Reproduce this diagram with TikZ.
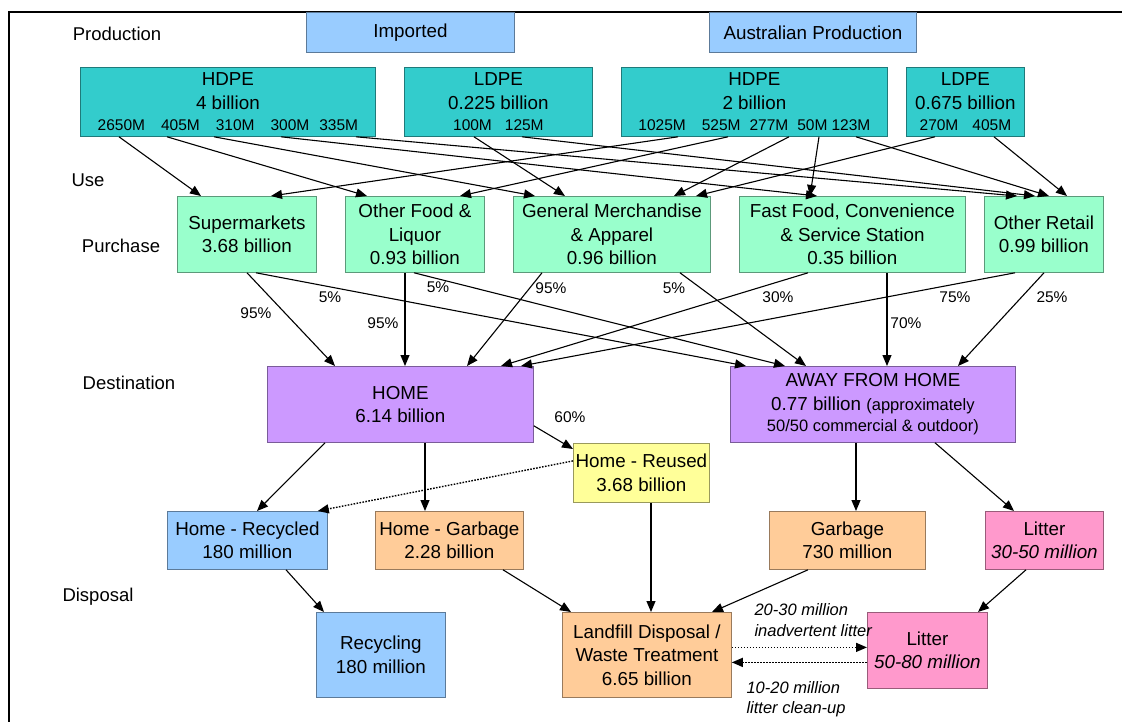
\documentclass[tikz,border=0pt]{standalone}
\usepackage{fontspec}
\setmainfont{Liberation Sans}
\usetikzlibrary{arrows.meta}
\definecolor{tealA}{HTML}{33CCCC}
\definecolor{lblueA}{HTML}{99CCFF}
\definecolor{mintA}{HTML}{99FFCC}
\definecolor{lilacA}{HTML}{CC99FF}
\definecolor{yelA}{HTML}{FFFF99}
\definecolor{peachA}{HTML}{FFCC99}
\definecolor{pinkA}{HTML}{FF99CC}
\newcommand\numf{\fontsize{15.5}{18}\selectfont}
\newcommand\smf{\fontsize{16.5}{18}\selectfont}
\tikzset{
 bx/.style={draw=#1!60!black, fill=#1, line width=0.8pt, anchor=north west, inner sep=0pt, align=center, font=\fontsize{18.8}{23.5}\selectfont},
 arr/.style={-{Triangle[length=11pt,width=9pt]}, line width=1.1pt},
 dotarr/.style={arr, line width=1.4pt, dash pattern=on 1.6pt off 1.4pt},
 pct/.style={font=\fontsize{15.5}{18}\selectfont},
 lbl/.style={font=\fontsize{18.5}{22}\selectfont},
 note/.style={font=\fontsize{16.5}{20}\selectfont\itshape, anchor=west},
}
\begin{document}
\begin{tikzpicture}[x=1pt,y=-1pt]
\useasboundingbox (0,0) rectangle (1122,722);
\fill[white] (0,0) rectangle (1122,722);
\draw[line width=1.3pt] (1122,12) -- (9,12) -- (9,722);

% row labels
\node[lbl] (lprod) at (117,34) {Production};
\node[lbl] (luse) at (88,180) {Use};
\node[lbl] (lpur) at (121,246) {Purchase};
\node[lbl] (ldes) at (129,383) {Destination};
\node[lbl] (ldis) at (98,597) {Disposal};

% top boxes
\node[bx=lblueA, minimum width=208pt, minimum height=40pt] (imp) at (306,12) {Imported};
\node[bx=lblueA, minimum width=207pt, minimum height=40pt] (aus) at (709,12) {Australian Production};

% production
\node[bx=tealA, minimum width=295pt, minimum height=69pt] (hI) at (80,67)
 {HDPE\\4 billion\\[-2pt]{\numf 2650M\hspace{16pt}405M\hspace{16pt}310M\hspace{16pt}300M\hspace{10pt}335M}};
\node[bx=tealA, minimum width=188pt, minimum height=69pt] (lI) at (404,67)
 {LDPE\\0.225 billion\\[-2pt]{\numf 100M\hspace{13pt}125M}};
\node[bx=tealA, minimum width=266pt, minimum height=69pt] (hA) at (621,67)
 {HDPE\\2 billion\\[-2pt]{\numf 1025M\hspace{16pt}525M\hspace{9pt}277M\hspace{9pt}50M\hspace{4pt}123M}};
\node[bx=tealA, minimum width=118pt, minimum height=69pt] (lA) at (906,67)
 {LDPE\\0.675 billion\\[-2pt]{\numf 270M\hspace{14pt}405M}};

% purchase
\node[bx=mintA, minimum width=139pt, minimum height=76pt] (sup) at (177,196) {Supermarkets\\3.68 billion};
\node[bx=mintA, minimum width=139pt, minimum height=76pt] (of) at (345,196) {Other Food \&\\Liquor\\0.93 billion};
\node[bx=mintA, minimum width=197pt, minimum height=76pt] (gm) at (513,196) {General Merchandise\\\& Apparel\\0.96 billion};
\node[bx=mintA, minimum width=226pt, minimum height=76pt] (ff) at (739,196) {Fast Food, Convenience\\\& Service Station\\0.35 billion};
\node[bx=mintA, minimum width=119pt, minimum height=76pt] (or) at (984,196) {Other Retail\\0.99 billion};

% destination
\node[bx=lilacA, minimum width=266pt, minimum height=76pt] (home) at (267,366) {HOME\\6.14 billion};
\node[bx=lilacA, minimum width=285pt, minimum height=76pt] (away) at (730,366)
 {AWAY FROM HOME\\0.77 billion {\smf(approximately}\\[-2pt]{\smf 50/50 commercial \& outdoor)}};
\node[bx=yelA, minimum width=136pt, minimum height=59pt] (reused) at (573,443) {Home - Reused\\3.68 billion};

% disposal
\node[bx=lblueA, minimum width=160pt, minimum height=58pt] (recd) at (167,511) {Home - Recycled\\180 million};
\node[bx=peachA, minimum width=148pt, minimum height=58pt] (hgar) at (375,511) {Home - Garbage\\2.28 billion};
\node[bx=peachA, minimum width=156pt, minimum height=58pt] (gar) at (769,511) {Garbage\\730 million};
\node[bx=pinkA, minimum width=118pt, minimum height=58pt] (lit1) at (985,511) {Litter\\\textit{30-50 million}};
\node[bx=lblueA, minimum width=129pt, minimum height=85pt] (recy) at (316,612) {Recycling\\180 million};
\node[bx=peachA, minimum width=169pt, minimum height=85pt] (land) at (562,612) {Landfill Disposal /\\Waste Treatment\\6.65 billion};
\node[bx=pinkA, minimum width=120pt, minimum height=76pt] (lit2) at (867,612) {Litter\\\textit{50-80 million}};

% production -> purchase
\draw[arr] ([xshift=39pt]hI.south west) -- ([xshift=24pt]sup.north west);
\draw[arr] ([xshift=87pt]hI.south west) -- ([xshift=22pt]of.north west);
\draw[arr] ([xshift=134pt]hI.south west) -- ([xshift=22pt]gm.north west);
\draw[arr] ([xshift=201pt]hI.south west) -- ([xshift=78pt]ff.north west);
\draw[arr] ([xshift=276pt]hI.south west) -- ([xshift=33pt]or.north west);
\draw[arr] ([xshift=70pt]lI.south west) -- ([xshift=52pt]gm.north west);
\draw[arr] ([xshift=118pt]lI.south west) -- ([xshift=51pt]or.north west);
\draw[arr] ([xshift=57pt]hA.south west) -- ([xshift=94pt]sup.north west);
\draw[arr] ([xshift=107pt]hA.south west) -- ([xshift=115pt]of.north west);
\draw[arr] ([xshift=168pt]hA.south west) -- ([xshift=161pt]gm.north west);
\draw[arr] ([xshift=198pt]hA.south west) -- ([xshift=71pt]ff.north west);
\draw[arr] ([xshift=235pt]hA.south west) -- ([xshift=65pt]or.north west);
\draw[arr] ([xshift=29pt]lA.south west) -- ([xshift=183pt]gm.north west);
\draw[arr] ([xshift=88pt]lA.south west) -- ([xshift=83pt]or.north west);

% purchase -> destination
\draw[arr] ([xshift=70pt]sup.south west) -- ([xshift=68pt]home.north west);
\draw[arr] ([xshift=79pt]sup.south west) -- ([xshift=16pt]away.north west);
\draw[arr] ([xshift=60pt]of.south west) -- ([xshift=138pt]home.north west);
\draw[arr] ([xshift=69pt]of.south west) -- ([xshift=55pt]away.north west);
\draw[arr] ([xshift=29pt]gm.south west) -- ([xshift=200pt]home.north west);
\draw[arr] ([xshift=167pt]gm.south west) -- ([xshift=76pt]away.north west);
\draw[arr] ([xshift=69pt]ff.south west) -- ([xshift=234pt]home.north west);
\draw[arr] ([xshift=148pt]ff.south west) -- ([xshift=157pt]away.north west);
\draw[arr] ([xshift=31pt]or.south west) -- ([xshift=254pt]home.north west);
\draw[arr] ([xshift=60pt]or.south west) -- ([xshift=228pt]away.north west);

% percentages
\node[pct] (p1) at (256,313) {95\%};
\node[pct] (p2) at (330,297) {5\%};
\node[pct] (p3) at (383,323) {95\%};
\node[pct] (p4) at (438,287) {5\%};
\node[pct] (p5) at (551,288) {95\%};
\node[pct] (p6) at (674,288) {5\%};
\node[pct] (p7) at (778,297) {30\%};
\node[pct] (p8) at (906,323) {70\%};
\node[pct] (p9) at (955,297) {75\%};
\node[pct] (p10) at (1052,297) {25\%};
\node[pct] (p11) at (570,417) {60\%};

% destination -> disposal
\draw[arr] ([xshift=58pt]home.south west) -- ([xshift=90pt]recd.north west);
\draw[arr] ([xshift=158pt]home.south west) -- ([xshift=50pt]hgar.north west);
\draw[arr] ([yshift=17pt]home.south east) -- ([yshift=-6pt]reused.north west);
\draw[dotarr] ([yshift=12pt]reused.west) -- ([xshift=-10pt]recd.north east);
\draw[arr] ([xshift=78pt]reused.south west) -- ([xshift=89pt]land.north west);
\draw[arr] ([xshift=126pt]away.south west) -- ([xshift=87pt]gar.north west);
\draw[arr] ([xshift=205pt]away.south west) -- ([xshift=29pt]lit1.north west);
\draw[arr] ([xshift=119pt]recd.south west) -- ([xshift=8pt]recy.north west);
\draw[arr] ([xshift=128pt]hgar.south west) -- ([xshift=9pt]land.north west);
\draw[arr] ([xshift=39pt]gar.south west) -- ([xshift=150pt]land.north west);
\draw[arr] ([xshift=41pt]lit1.south west) -- ([xshift=111pt]lit2.north west);
\draw[dotarr] ([yshift=7.5pt]land.east) -- ([yshift=3pt]lit2.west);
\draw[dotarr] ([yshift=-12pt]lit2.west) -- ([yshift=-7.5pt]land.east);

% notes
\node[note] (n1) at (751,610) {20-30 million};
\node[note] (n2) at (751,631) {inadvertent litter};
\node[note] (n3) at (743,688) {10-20 million};
\node[note] (n4) at (743,709) {litter clean-up};
\end{tikzpicture}
\end{document}
